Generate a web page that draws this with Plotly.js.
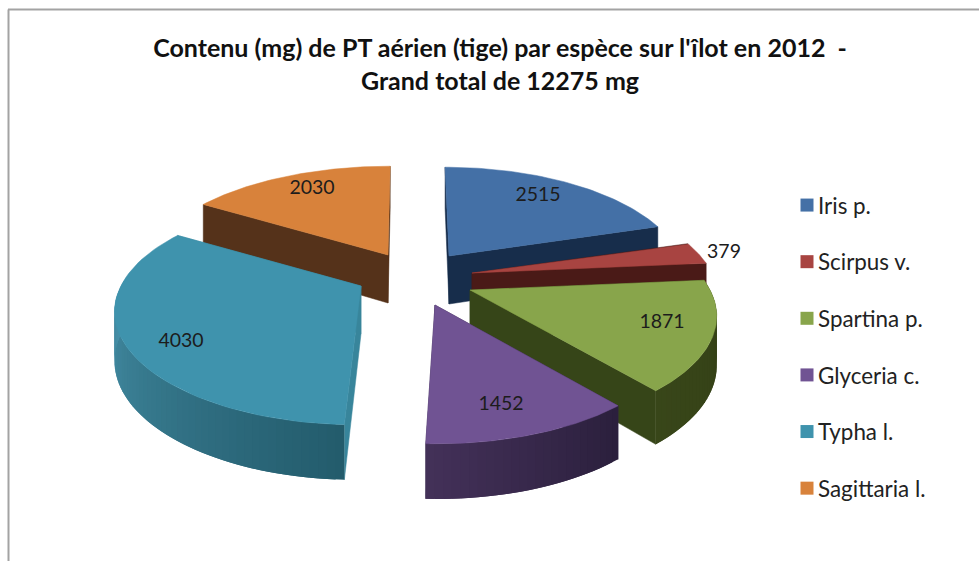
<!DOCTYPE html>
<html><head><meta charset="utf-8">
<script src="https://cdn.plot.ly/plotly-3.0.1.min.js"></script>
<style>html,body{margin:0;padding:0;background:#fff}#chart{width:979px;height:561px}</style>
</head><body><div id="chart"></div>
<script>
// --- data ---
const species = ["Iris p.","Scirpus v.","Spartina p.","Glyceria c.","Typha l.","Sagittaria l."];
const values  = [2515,379,1871,1452,4030,2030];
const topColors  = ["#4470a6","#a84441","#88a54b","#705393","#3f93ad","#d8823b"];
// --- 3D-pie projection styling ---
const cutColors  = ["#172d4b","#4a1a17","#364518","#35274a","#38859b","#55321a"];
const arcLight   = ["#1d3857","#4f1d1a","#384619","#443159","#4690a8","#5e381d"];
const arcDark    = ["#172d4b","#4a1a17","#333f16","#2a1f3c","#225a6a","#55321a"];
const apexX = [449,472,470,435,361,388];
const apexY = [256,273,290,305,286,255];
const radiusScale = [0.965,1,1,1,1,1];
const labelX = [538,724,662,501,181,312];
const labelY = [196,253,323,405,342,189];
const drawOrder = [5,0,1,4,2,3];
const Rx=240, Ry=111, driftX=410, driftK=0.1, depthBase=48, depthPersp=0.15;
const scaleFrontX=0.22, scaleBackX=0.2, scaleFrontY=0.25, scaleBackY=0.2;

const total = values.reduce((a,b)=>a+b,0);
const traces=[];
function hex(c){return [1,3,5].map(i=>parseInt(c.substr(i,2),16));}
function mix(a,b,t){const A=hex(a),B=hex(b);return "rgb("+A.map((v,i)=>Math.round(v+(B[i]-v)*t)).join(",")+")";}
function pt(i,theta,r){
  const u=r*Math.sin(theta), v=-r*Math.cos(theta);
  const fx=1+(v>0?scaleFrontX:scaleBackX)*v, fy=1+(v>0?scaleFrontY:scaleBackY)*v;
  return {x:apexX[i]+Rx*radiusScale[i]*u*fx+(apexX[i]-driftX)*driftK*v, y:apexY[i]+Ry*v*fy, d:depthBase*(1+depthPersp*v), v:v};
}
function poly(pts,color,w){
  traces.push({x:pts.map(p=>p[0]),y:pts.map(p=>p[1]),mode:"lines",fill:"toself",fillcolor:color,
    line:{color:color,width:w},hoverinfo:"skip",showlegend:false});
}
function wallQuad(a,b){return [[a.x,a.y],[b.x,b.y],[b.x,b.y+b.d],[a.x,a.y+a.d],[a.x,a.y]];}
const starts=[];let cum=0;values.forEach(v=>{starts.push(cum/total*2*Math.PI);cum+=v;});
drawOrder.forEach(i=>{
  const a0=starts[i],a1=a0+values[i]/total*2*Math.PI;
  const apex=pt(i,0,0),A=pt(i,a0,1),B=pt(i,a1,1);
  const faces=[[A,(A.y+apex.y)/2],[B,(B.y+apex.y)/2]].sort((p,q)=>p[1]-q[1]);
  faces.forEach(f=>poly(wallQuad(apex,f[0]),cutColors[i],0.5));
  // outer wall in shaded bands, each overlapping the next so no seams show
  const n=Math.max(4,Math.round((a1-a0)/0.03));
  const order=[];for(let k=0;k<n;k++)order.push(k);
  order.forEach(k=>{
    const t0=a0+(a1-a0)*k/n,t1=a0+(a1-a0)*Math.min(n,k+2)/n;
    const p=pt(i,t0,1),q=pt(i,t1,1);
    if(p.v<-0.03&&q.v<-0.03)return;
    const mid=(k+0.5)/n;
    let shade=mid;
    if(i==4)shade=Math.max(0,Math.min(1,(Math.PI*1.5-(a0+(a1-a0)*mid))/(Math.PI*0.5)));
    if(i==2||i==3)shade=1-mid;
    poly(wallQuad(p,q),mix(arcLight[i],arcDark[i],shade),0);
  });
  const pts=[[apex.x,apex.y]];
  const m=60;
  for(let k=0;k<=m;k++){const p=pt(i,a0+(a1-a0)*k/m,1);pts.push([p.x,p.y]);}
  pts.push([apex.x,apex.y]);
  poly(pts,topColors[i],0.5);
});
// value labels
traces.push({x:labelX,y:labelY,mode:"text",text:values.map(String),textposition:"middle center",
  textfont:{family:"Lato, sans-serif",size:19.5,color:"#1c1c1c"},hoverinfo:"skip",showlegend:false});
// legend entries
species.forEach((s,i)=>traces.push({x:[null],y:[null],mode:"markers",name:s,legendgroup:s,
  marker:{symbol:"square",size:13,color:topColors[i],line:{width:0}}}));

const layout={
  width:979,height:561,margin:{l:0,r:0,t:0,b:0},paper_bgcolor:"#fff",plot_bgcolor:"#fff",
  xaxis:{range:[0,979],visible:false,fixedrange:true},
  yaxis:{range:[561,0],visible:false,fixedrange:true},
  title:{text:"<b>Contenu (mg) de PT aérien (tige) par espèce sur l'îlot en 2012  -</b><br><b>Grand total de 12275 mg</b>",
    font:{family:"Lato, sans-serif",size:25,color:"#111"},x:500/979,xanchor:"center",y:1-57/561,yanchor:"top"},
  legend:{x:778/979,xanchor:"left",y:1-184/561,yanchor:"top",tracegroupgap:24.5,bgcolor:"rgba(0,0,0,0)",
    font:{family:"Lato, sans-serif",size:22.4,color:"#222"},itemwidth:30},
  shapes:[
    {type:"line",xref:"paper",yref:"paper",x0:8/979,x1:1,y0:1-9.5/561,y1:1-9.5/561,line:{color:"#a3a3a3",width:2}},
    {type:"line",xref:"paper",yref:"paper",x0:8.5/979,x1:8.5/979,y0:1-9.5/561,y1:0,line:{color:"#a3a3a3",width:2}}
  ]
};
Plotly.newPlot("chart",traces,layout,{displayModeBar:false,staticPlot:true}).then(()=>{
  // bring the legend swatches closer to their text, as in the reference
  document.querySelectorAll(".legend .legendpoints").forEach(g=>{
    g.setAttribute("transform","translate(9,0)");
  });
});
</script></body></html>
